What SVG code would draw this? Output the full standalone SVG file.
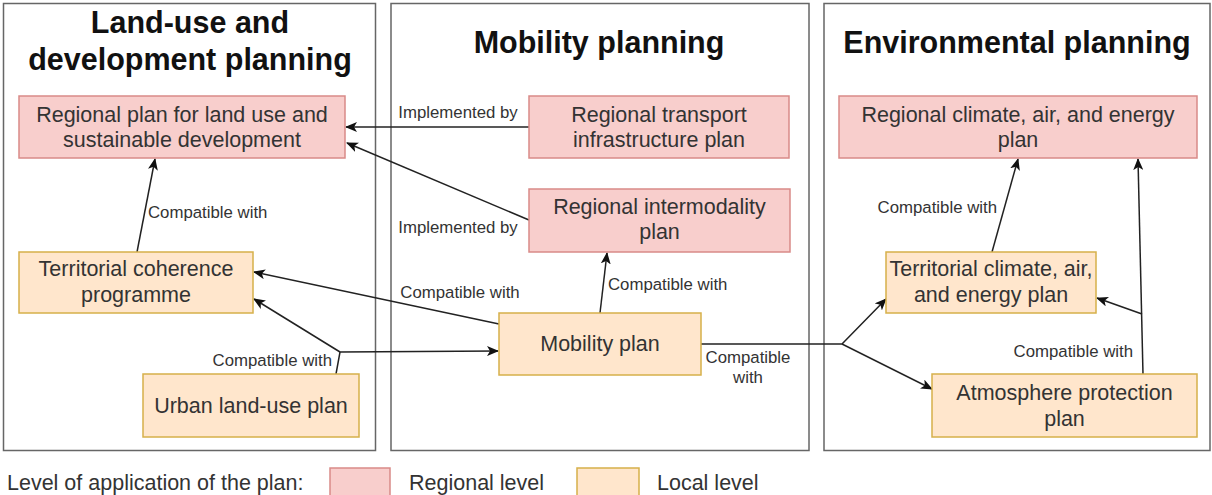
<svg xmlns="http://www.w3.org/2000/svg" width="1212" height="495" viewBox="0 0 1212 495">
<defs>
<style>
.cont{fill:#fff;stroke:#666;stroke-width:1.5}
.reg{fill:#f8cecc;stroke:#d98a88;stroke-width:1.5}
.loc{fill:#ffe6cc;stroke:#d6b04a;stroke-width:1.5}
.title{font-family:"Liberation Sans",Arial,sans-serif;font-size:30.5px;font-weight:bold;fill:#111;text-anchor:middle}
.nt{font-family:"Liberation Sans",Arial,sans-serif;font-size:21.5px;fill:#333;text-anchor:middle}
.lb{font-family:"Liberation Sans",Arial,sans-serif;font-size:16.8px;fill:#333}
.lg{font-family:"Liberation Sans",Arial,sans-serif;font-size:21.5px;fill:#333}
.edge{fill:none;stroke:#222;stroke-width:1.5}
</style>
<marker id="arr" viewBox="0 0 12 10" refX="11" refY="5" markerWidth="12" markerHeight="10" markerUnits="userSpaceOnUse" orient="auto">
<path d="M0,0 L12,5 L0,10 L3,5 Z" fill="#111"/>
</marker>
</defs>
<rect width="1212" height="495" fill="#fff"/>
<g id="containers">
<g id="landuse"><rect class="cont" x="3.5" y="3.5" width="372" height="447"/>
<text class="title" x="190" y="33">Land-use and</text>
<text class="title" x="190" y="70">development planning</text></g>
<g id="mobility"><rect class="cont" x="391" y="3.5" width="418" height="447"/>
<text class="title" x="599" y="53">Mobility planning</text></g>
<g id="environment"><rect class="cont" x="824" y="3.5" width="386" height="447"/>
<text class="title" x="1017" y="53">Environmental planning</text></g>
</g>
<g id="connectors">
<path class="edge" d="M529,127 L346,127" marker-end="url(#arr)"/>
<path class="edge" d="M529,220 L347,143" marker-end="url(#arr)"/>
<path class="edge" d="M137,252 L155,159" marker-end="url(#arr)"/>
<path class="edge" d="M499,324 L254,272" marker-end="url(#arr)"/>
<path class="edge" d="M336,374 L340,352 L498,351" marker-end="url(#arr)"/>
<path class="edge" d="M340,352 L254,299" marker-end="url(#arr)"/>
<path class="edge" d="M600,313 L607,253" marker-end="url(#arr)"/>
<path class="edge" d="M701,344 L842,344 L886,299" marker-end="url(#arr)"/>
<path class="edge" d="M842,344 L932,389" marker-end="url(#arr)"/>
<path class="edge" d="M992,252 L1018,159" marker-end="url(#arr)"/>
<path class="edge" d="M1143,374 L1138,159" marker-end="url(#arr)"/>
<path class="edge" d="M1142,314 L1097,298" marker-end="url(#arr)"/>
<text class="lb" x="458" y="118" text-anchor="middle">Implemented by</text>
<text class="lb" x="458" y="233" text-anchor="middle">Implemented by</text>
<text class="lb" x="148" y="218">Compatible with</text>
<text class="lb" x="460" y="298" text-anchor="middle">Compatible with</text>
<text class="lb" x="332" y="366" text-anchor="end">Compatible with</text>
<text class="lb" x="608" y="290">Compatible with</text>
<text class="lb" x="748" y="363" text-anchor="middle">Compatible</text>
<text class="lb" x="748" y="383" text-anchor="middle">with</text>
<text class="lb" x="997" y="213" text-anchor="end">Compatible with</text>
<text class="lb" x="1133" y="357" text-anchor="end">Compatible with</text>
</g>
<g id="n-regional-landuse"><rect class="reg" x="19" y="96" width="326" height="62"/>
<text class="nt" x="182" y="122">Regional plan for land use and</text>
<text class="nt" x="182" y="147">sustainable development</text></g>
<g id="n-regional-transport"><rect class="reg" x="529" y="96" width="260" height="62"/>
<text class="nt" x="659" y="122">Regional transport</text>
<text class="nt" x="659" y="147">infrastructure plan</text></g>
<g id="n-regional-intermodality"><rect class="reg" x="529" y="189" width="261" height="63"/>
<text class="nt" x="659.5" y="214">Regional intermodality</text>
<text class="nt" x="659.5" y="239">plan</text></g>
<g id="n-regional-climate"><rect class="reg" x="839" y="96" width="358" height="62"/>
<text class="nt" x="1018" y="122">Regional climate, air, and energy</text>
<text class="nt" x="1018" y="147">plan</text></g>
<g id="n-territorial-coherence"><rect class="loc" x="19" y="252" width="234" height="61"/>
<text class="nt" x="136" y="276">Territorial coherence</text>
<text class="nt" x="136" y="302">programme</text></g>
<g id="n-urban"><rect class="loc" x="143" y="374" width="216" height="63"/>
<text class="nt" x="251" y="413">Urban land-use plan</text></g>
<g id="n-mobility"><rect class="loc" x="499" y="313" width="202" height="62"/>
<text class="nt" x="600" y="351">Mobility plan</text></g>
<g id="n-territorial-climate"><rect class="loc" x="886" y="252" width="210" height="61"/>
<text class="nt" x="991" y="276">Territorial climate, air,</text>
<text class="nt" x="991" y="302">and energy plan</text></g>
<g id="n-atmosphere"><rect class="loc" x="932" y="374" width="265" height="63"/>
<text class="nt" x="1064.5" y="400">Atmosphere protection</text>
<text class="nt" x="1064.5" y="426">plan</text></g>
<g id="legend">
<text class="lg" x="7" y="490">Level of application of the plan:</text>
<rect class="reg" x="330" y="468" width="60" height="35"/>
<text class="lg" x="409" y="490">Regional level</text>
<rect class="loc" x="577" y="468" width="62" height="35"/>
<text class="lg" x="657" y="490">Local level</text>
</g>
</svg>
